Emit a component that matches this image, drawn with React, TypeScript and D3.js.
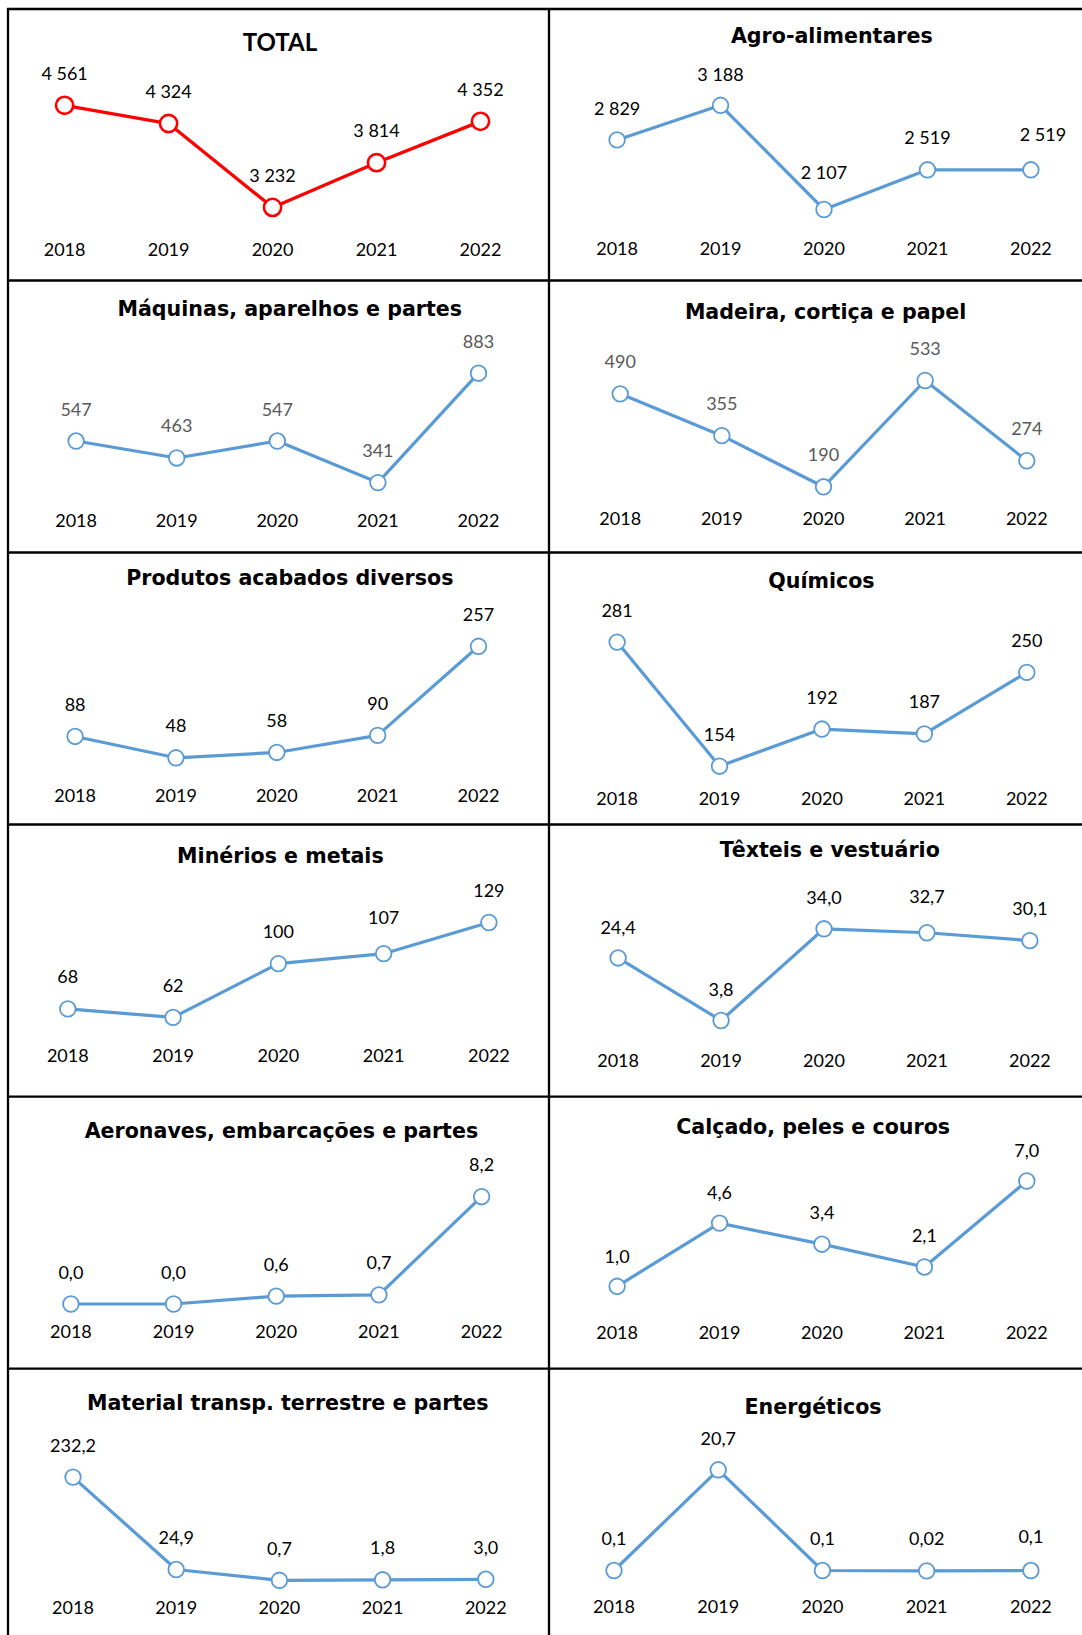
import React from "react";
import * as d3 from "d3";

const years = ["2018", "2019", "2020", "2021", "2022"];

const totalValues = [4561, 4324, 3232, 3814, 4352];
const agroValues = [2829, 3188, 2107, 2519, 2519];
const maquinasValues = [547, 463, 547, 341, 883];
const madeiraValues = [490, 355, 190, 533, 274];
const produtosValues = [88, 48, 58, 90, 257];
const quimicosValues = [281, 154, 192, 187, 250];
const mineriosValues = [68, 62, 100, 107, 129];
const texteisValues = [24.4, 3.8, 34.0, 32.7, 30.1];
const aeronavesValues = [0.0, 0.0, 0.6, 0.7, 8.2];
const calcadoValues = [1.0, 4.6, 3.4, 2.1, 7.0];
const materialValues = [232.2, 24.9, 0.7, 1.8, 3.0];
const energeticosValues = [0.1, 20.7, 0.1, 0.02, 0.1];

const titles = [
  "TOTAL",
  "Agro-alimentares",
  "Máquinas, aparelhos e partes",
  "Madeira, cortiça e papel",
  "Produtos acabados diversos",
  "Químicos",
  "Minérios e metais",
  "Têxteis e vestuário",
  "Aeronaves, embarcações e partes",
  "Calçado, peles e couros",
  "Material transp. terrestre e partes",
  "Energéticos",
];

const seriesList = [
  totalValues, agroValues, maquinasValues, madeiraValues, produtosValues, quimicosValues,
  mineriosValues, texteisValues, aeronavesValues, calcadoValues, materialValues, energeticosValues,
];

// decimals: 0 = integer with space thousands, 1 = one decimal, -1 = as-is
const decimalsList = [0, 0, 0, 0, 0, 0, 0, 1, 1, 1, 1, -1];

// layout (page pixels): x of first/last point, y of max/min value, year-label y, title centre
type Layout = {
  x0: number; x4: number; yMax: number; yMin: number; yearY: number; tx: number; ty: number;
  dy?: number[]; dx?: number[]; red?: boolean; gray?: boolean;
};
const layouts: Layout[] = [
  { x0: 64.6, x4: 480.5, yMax: 105.3, yMin: 207.4, yearY: 249.1, tx: 279.9, ty: 42.7, red: true },
  { x0: 617.1, x4: 1030.9, yMax: 105.3, yMin: 209.5, yearY: 248.1, tx: 831.8, ty: 35.4, dy: [-31, -31, -37, -32, -35], dx: [0, 0, 0, 0, 12] },
  { x0: 76.1, x4: 478.5, yMax: 373.2, yMin: 482.6, yearY: 520.2, tx: 289.8, ty: 308.6, gray: true },
  { x0: 620.2, x4: 1026.8, yMax: 380.5, yMin: 486.8, yearY: 518.1, tx: 825.6, ty: 311.7, gray: true },
  { x0: 75.1, x4: 478.5, yMax: 646.3, yMin: 757.8, yearY: 795.4, tx: 289.8, ty: 577.5 },
  { x0: 617.1, x4: 1026.8, yMax: 642.1, yMin: 766.2, yearY: 798.5, tx: 821.4, ty: 580.6 },
  { x0: 67.8, x4: 488.9, yMax: 922.5, yMin: 1017.4, yearY: 1055.9, tx: 280.4, ty: 855.8, dy: [-32, -32, -32, -36, -32] },
  { x0: 618.1, x4: 1029.9, yMax: 928.8, yMin: 1020.5, yearY: 1060.1, tx: 829.8, ty: 849.6, dy: [-30, -31, -31, -36, -32] },
  { x0: 70.9, x4: 481.6, yMax: 1196.7, yMin: 1304.0, yearY: 1331.1, tx: 281.4, ty: 1130.0 },
  { x0: 617.1, x4: 1026.8, yMax: 1181.0, yMin: 1286.3, yearY: 1332.2, tx: 813.1, ty: 1126.8, dy: [-30, -31, -32, -31, -31] },
  { x0: 73.0, x4: 485.8, yMax: 1477.1, yMin: 1580.3, yearY: 1607.4, tx: 287.7, ty: 1402.0 },
  { x0: 614.0, x4: 1030.9, yMax: 1469.8, yMin: 1570.9, yearY: 1606.3, tx: 813.1, ty: 1406.2, dy: [-32, -31, -32, -32, -34] },
];

const rowLines = [9, 280.5, 552.5, 824.5, 1096.6, 1368.6];
const colLines = [8, 549];

const locale = d3.formatLocale({ decimal: ",", thousands: " ", grouping: [3], currency: ["", ""] });
const fmtInt = locale.format(",.0f");
const fmt1 = locale.format(".1f");
function fmtValue(v: number, dec: number) {
  if (dec === 0) return fmtInt(v);
  if (dec === 1) return fmt1(v);
  return String(v).replace(".", ",");
}

const BLUE = "#5B9BD5";
const RED = "#FF0000";
const numFont = "Lato, 'Open Sans', sans-serif";
const titleFont = "'DejaVu Sans', Verdana, sans-serif";

function Panel({ idx }: { idx: number }) {
  const values = seriesList[idx];
  const L = layouts[idx];
  const x = d3.scalePoint<string>().domain(years).range([L.x0, L.x4]);
  const [mn, mx] = d3.extent(values) as [number, number];
  const y = d3.scaleLinear().domain([mn, mx]).range([L.yMin, L.yMax]);
  const line = d3.line<number>().x((_, i) => x(years[i]) as number).y((d) => y(d));
  const color = L.red ? RED : BLUE;
  const labelColor = L.gray ? "#595959" : "#000";
  return (
    <g>
      <text
        x={L.tx}
        y={L.ty + (idx === 0 ? 8.5 : 7.5)}
        textAnchor="middle"
        fontFamily={idx === 0 ? numFont : titleFont}
        fontWeight="bold"
        fontSize={idx === 0 ? 24 : 20.6}
        fill="#000"
      >
        {titles[idx]}
      </text>
      <path d={line(values) || ""} fill="none" stroke={color} strokeWidth={L.red ? 3.3 : 3.2} strokeLinejoin="round" />
      {values.map((v, i) => (
        <circle key={"c" + i} cx={x(years[i])} cy={y(v)} r={L.red ? 8.6 : 7.8} fill="#fff" stroke={color} strokeWidth={L.red ? 2.6 : 1.8} />
      ))}
      {values.map((v, i) => (
        <text
          key={"l" + i}
          x={(x(years[i]) as number) + (L.dx ? L.dx[i] : 0)}
          y={y(v) + (L.dy ? L.dy[i] : -32) + 6.5}
          textAnchor="middle"
          fontFamily={numFont}
          fontSize={18}
          fill={labelColor}
        >
          {fmtValue(v, decimalsList[idx])}
        </text>
      ))}
      {years.map((yr) => (
        <text key={yr} x={x(yr)} y={L.yearY + 6.5} textAnchor="middle" fontFamily={numFont} fontSize={18} fill="#000">
          {yr}
        </text>
      ))}
    </g>
  );
}

export default function App() {
  return (
    <svg
      width={1082}
      height={1635}
      style={{ position: "fixed", left: 0, top: 0, background: "#fff" }}
    >
      <rect x={0} y={0} width={1082} height={1635} fill="#fff" />
      {seriesList.map((_, i) => (
        <Panel key={i} idx={i} />
      ))}
      {rowLines.map((ry, i) => (
        <line key={"r" + i} x1={7} x2={1082} y1={ry} y2={ry} stroke="#000" strokeWidth={2.3} />
      ))}
      {colLines.map((cx, i) => (
        <line key={"v" + i} x1={cx} x2={cx} y1={8} y2={1635} stroke="#000" strokeWidth={2.3} />
      ))}
    </svg>
  );
}
